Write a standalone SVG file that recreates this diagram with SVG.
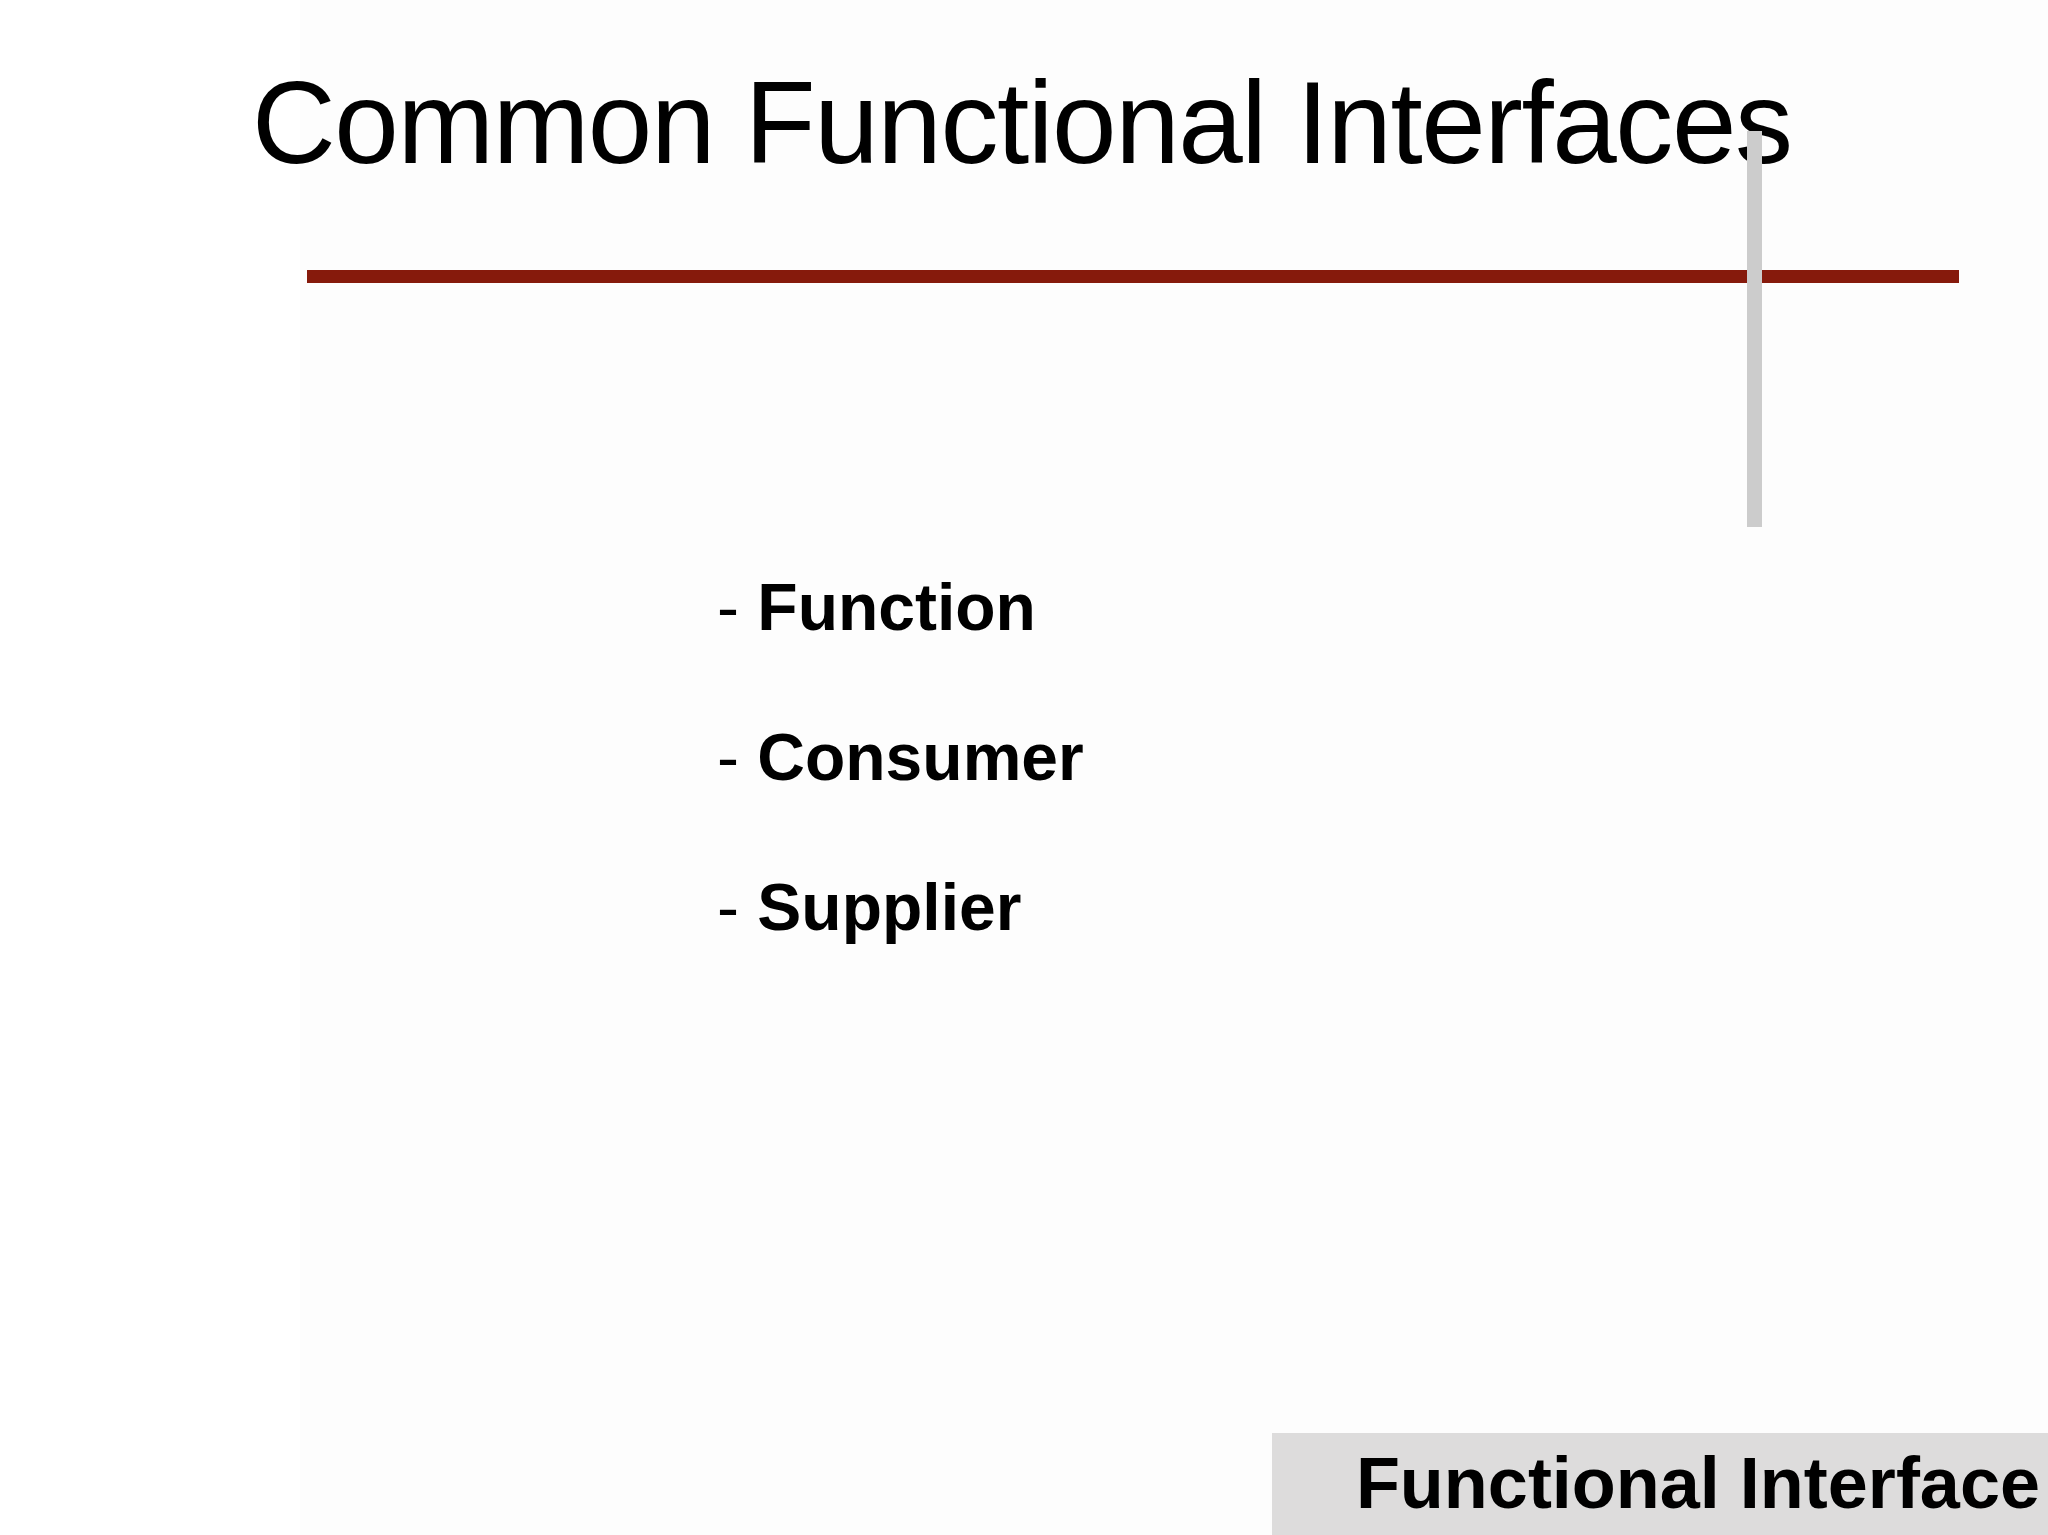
<svg xmlns="http://www.w3.org/2000/svg" width="2048" height="1535" viewBox="0 0 2048 1535">
<style>
.b{font-family:"Liberation Sans",Arial,sans-serif;font-weight:bold;font-size:66px;fill:#000}
</style>
<rect width="2048" height="1535" fill="#ffffff"/>
<rect x="300" y="0" width="1748" height="1535" fill="#fdfdfd"/>
<g id="title"><text x="252" y="163" font-family="Liberation Sans,Arial,sans-serif" font-size="116" fill="#000" textLength="1541">Common Functional Interfaces</text></g>
<g id="rule"><rect x="307" y="270" width="1652" height="13" fill="#861a0c"/></g>
<g id="bar"><rect x="1747" y="131" width="15" height="396" fill="#cccccc"/></g>
<g id="bullets">
<text class="b" x="717" y="630"><tspan font-weight="normal">- </tspan>Function</text>
<text class="b" x="717" y="780"><tspan font-weight="normal">- </tspan>Consumer</text>
<text class="b" x="717" y="930"><tspan font-weight="normal">- </tspan>Supplier</text>
</g>
<g id="footer"><rect x="1272" y="1433" width="776" height="102" fill="#dddcdc"/>
<text x="2040" y="1508" text-anchor="end" font-family="Liberation Sans,Arial,sans-serif" font-weight="bold" font-size="72" fill="#000">Functional Interface</text></g>
</svg>
